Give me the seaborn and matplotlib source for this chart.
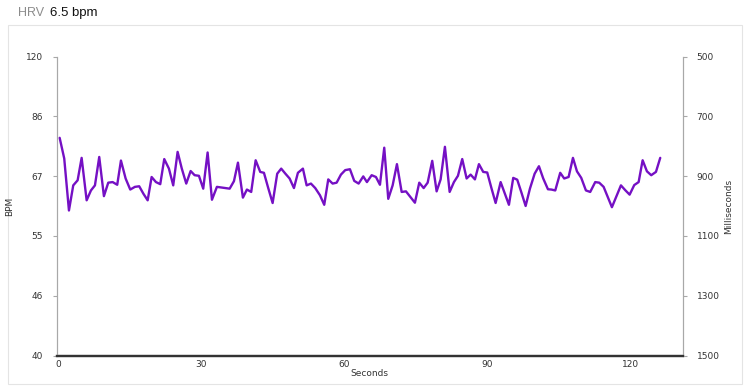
import matplotlib
matplotlib.use("Agg")
import matplotlib.pyplot as plt
from matplotlib.patches import Rectangle
import seaborn as sns
import pandas as pd

# ---- data ----
seconds = [0.36, 1.32, 2.31, 3.21, 4.13, 4.97, 6.02, 6.92, 7.76, 8.66,
           9.64, 10.55, 11.47, 12.43, 13.21, 14.19, 15.16, 16.14, 17.04, 17.92,
           18.81, 19.64, 20.55, 21.45, 22.29, 23.27, 24.17, 25.09, 25.97, 26.90,
           27.82, 28.66, 29.56, 30.46, 31.38, 32.29, 33.33, 34.21, 35.12, 36.00,
           36.90, 37.74, 38.78, 39.62, 40.52, 41.45, 42.41, 43.19, 44.09, 45.01,
           45.97, 46.81, 47.69, 48.57, 49.48, 50.31, 51.36, 52.14, 53.04, 53.94,
           54.93, 55.83, 56.67, 57.59, 58.43, 59.33, 60.23, 61.22, 62.12, 63.04,
           64.01, 64.78, 65.77, 66.67, 67.51, 68.41, 69.25, 70.17, 71.07, 72.06,
           72.96, 73.90, 74.84, 75.75, 76.67, 77.51, 78.47, 79.39, 80.23, 81.13,
           82.12, 83.02, 83.86, 84.76, 85.68, 86.52, 87.42, 88.26, 89.16, 90.00,
           90.88, 91.76, 92.81, 93.71, 94.55, 95.45, 96.29, 97.17, 98.05, 98.95,
           99.94, 100.84, 101.74, 102.73, 103.46, 104.26, 105.30, 106.14, 107.06, 107.97,
           108.81, 109.71, 110.69, 111.59, 112.64, 113.48, 114.40, 115.26, 116.14, 117.09,
           118.03, 118.93, 119.85, 120.82, 121.74, 122.58, 123.48, 124.38, 125.37, 126.27]
rr_ms = [772, 841, 1015, 931, 914, 839, 981, 948, 931, 836,
         967, 922, 920, 929, 848, 908, 945, 936, 934, 959,
         981, 903, 920, 927, 843, 875, 931, 819, 875, 925,
         883, 897, 899, 942, 821, 979, 936, 938, 940, 942,
         917, 855, 972, 945, 953, 847, 886, 889, 940, 990,
         892, 875, 892, 908, 940, 889, 875, 931, 925, 940,
         964, 996, 911, 925, 922, 895, 880, 877, 916, 925,
         901, 920, 897, 903, 929, 805, 976, 931, 860, 953,
         951, 970, 989, 922, 940, 922, 849, 951, 911, 802,
         953, 920, 899, 843, 908, 895, 911, 860, 886, 888,
         940, 990, 920, 959, 996, 906, 912, 955, 1000, 942,
         892, 867, 908, 944, 945, 948, 889, 908, 903, 839,
         884, 906, 948, 953, 920, 922, 936, 970, 1004, 967,
         931, 947, 962, 930, 920, 847, 884, 897, 886, 839]

ms_ticks = [500, 700, 900, 1100, 1300, 1500]
bpm_labels = ["120", "86", "67", "55", "46", "40"]
x_ticks = [0, 30, 60, 90, 120]

df = pd.DataFrame({"Seconds": seconds, "Milliseconds": rr_ms})

sns.set_style("white")
plt.rcParams["font.family"] = ["DejaVu Sans"]

W, H = 750, 386
fig = plt.figure(figsize=(W / 100, H / 100), dpi=100)

# outer light frame
fig.patches.append(Rectangle((8 / W, 1 - 384 / H), 734 / W, (384 - 25) / H,
                             transform=fig.transFigure, fill=False,
                             edgecolor="#e4e4e4", linewidth=0.8))

x0, x1, ytop, ybot = 56.5, 682.8, 56.5, 355.5
ax = fig.add_axes([x0 / W, 1 - ybot / H, (x1 - x0) / W, (ybot - ytop) / H])

sns.lineplot(data=df, x="Seconds", y="Milliseconds", ax=ax,
             color="#7510c4", linewidth=1.7, estimator=None, sort=False)

ax.set_xlim(-0.3, 131)
ax.set_ylim(1500, 500)
ax.set_xticks(x_ticks)
ax.set_xticklabels([str(t) for t in x_ticks])
ax.set_yticks(ms_ticks)
ax.set_yticklabels(bpm_labels)
ax.set_xlabel("")
ax.set_ylabel("")

ax2 = ax.twinx()
ax2.set_ylim(1500, 500)
ax2.set_yticks(ms_ticks)
ax2.set_yticklabels([str(t) for t in ms_ticks])

for a in (ax, ax2):
    a.spines["top"].set_visible(False)
    a.spines["left"].set_color("#a8a8a8")
    a.spines["right"].set_color("#a8a8a8")
    a.spines["left"].set_linewidth(0.8)
    a.spines["right"].set_linewidth(0.8)
    a.spines["bottom"].set_color("#333333")
    a.spines["bottom"].set_linewidth(1.6)

ax.tick_params(axis="y", left=True, length=3, width=0.8, color="#a8a8a8",
               labelsize=6.5, labelcolor="#333333", pad=7)
ax.tick_params(axis="x", bottom=False, length=0, labelsize=6.5,
               labelcolor="#333333", pad=3)
ax2.tick_params(axis="y", right=True, length=3, width=0.8, color="#a8a8a8",
                labelsize=6.5, labelcolor="#333333", pad=7)

fig.text(369.5 / W, 1 - 374 / H, "Seconds", fontsize=6.5, color="#333333",
         ha="center", va="center")
fig.text(10 / W, 1 - 206 / H, "BPM", fontsize=6.5, color="#333333",
         ha="center", va="center", rotation=90)
fig.text(729 / W, 1 - 206 / H, "Milliseconds", fontsize=6.5, color="#333333",
         ha="center", va="center", rotation=90)

fig.text(18 / W, 1 - 13 / H, "HRV", fontsize=9, color="#8c8c8c",
         ha="left", va="center", family=["Liberation Sans"])
fig.text(50 / W, 1 - 13 / H, "6.5 bpm", fontsize=9.5, color="#111111",
         ha="left", va="center", family=["Liberation Sans"])

fig.savefig("out.png", dpi=100)
